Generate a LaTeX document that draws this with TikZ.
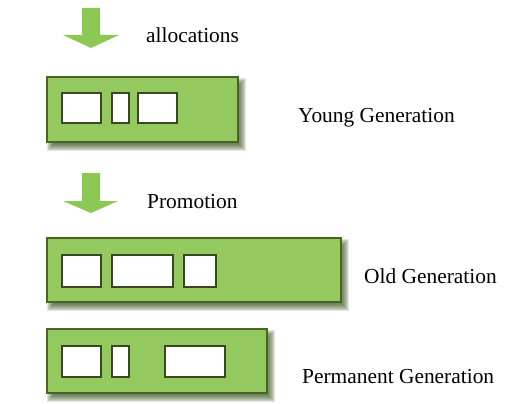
\documentclass[tikz,border=0pt]{standalone}
\usepackage{fontspec}
\setmainfont{Liberation Serif}
\definecolor{barfill}{RGB}{148,201,96}
\definecolor{barline}{RGB}{74,100,38}
\definecolor{boxline}{RGB}{56,72,32}
\definecolor{shadowgreen}{RGB}{50,78,22}
\definecolor{arrowgreen}{RGB}{142,200,84}
\newcommand\barshadow[4]{%
  \foreach \k in {-3,...,4}{%
    \fill[shadowgreen,opacity=0.14] (#1+4-\k,#2+5-\k) rectangle (#3+4+\k,#4+5+\k);}}
\tikzset{
  genbar/.style={draw=barline,fill=barfill,line width=1.5pt,inner sep=0pt,outer sep=0pt,anchor=north west},
  slot/.style={draw=boxline,fill=white,line width=2pt,inner sep=0pt,outer sep=0pt,anchor=north west},
  lbl/.style={anchor=base west,inner sep=0pt,font=\fontsize{21.4}{24}\selectfont},
  downarrow/.style={fill=arrowgreen}
}
\begin{document}
\begin{tikzpicture}[x=1pt,y=-1pt]
\useasboundingbox (0,0) rectangle (520,404);
% arrows
\fill[downarrow] (82,8) -- (100,8) -- (100,35) -- (119,35) -- (91,48) -- (63,35) -- (82,35) -- cycle;
\fill[downarrow] (82,173) -- (100,173) -- (100,201) -- (118,201) -- (91,213) -- (63,201) -- (82,201) -- cycle;
\node[lbl] (alloc) at (146,43) {allocations};
\node[lbl] (promo) at (147,208) {Promotion};
% young generation
\barshadow{47}{77}{238}{142}
\node[genbar,minimum width=191pt,minimum height=65pt] (young) at (47,77) {};
\node[slot,minimum width=39pt,minimum height=30pt] (y1) at (62,93) {};
\node[slot,minimum width=17pt,minimum height=30pt] (y2) at (112,93) {};
\node[slot,minimum width=39pt,minimum height=30pt] (y3) at (138,93) {};
\node[lbl] (younglbl) at (298,122) {Young Generation};
% old generation
\barshadow{47}{238}{341}{302}
\node[genbar,minimum width=294pt,minimum height=64pt] (old) at (47,238) {};
\node[slot,minimum width=39pt,minimum height=32pt] (o1) at (62,255) {};
\node[slot,minimum width=61pt,minimum height=32pt] (o2) at (112,255) {};
\node[slot,minimum width=32pt,minimum height=32pt] (o3) at (184,255) {};
\node[lbl] (oldlbl) at (364,283) {Old Generation};
% permanent generation
\barshadow{47}{329}{267}{393}
\node[genbar,minimum width=220pt,minimum height=64pt] (perm) at (47,329) {};
\node[slot,minimum width=39pt,minimum height=31pt] (p1) at (62,346) {};
\node[slot,minimum width=17pt,minimum height=31pt] (p2) at (112,346) {};
\node[slot,minimum width=60pt,minimum height=31pt] (p3) at (165,346) {};
\node[lbl] (permlbl) at (302,383) {Permanent Generation};
\end{tikzpicture}
\end{document}
